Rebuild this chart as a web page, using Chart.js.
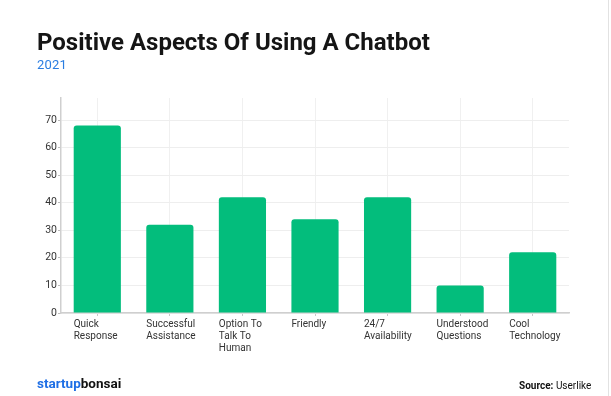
<!DOCTYPE html>
<html>
<head>
    <title>Positive Aspects Of Using A Chatbot</title>
    <script src="https://cdn.jsdelivr.net/npm/chart.js"></script>
    <style>
        body { margin: 0; background: #fff; font-family: Roboto, sans-serif; }
        #wrap { position: relative; width: 611px; height: 396px; overflow: hidden; }
        #edge { position: absolute; left: 608px; top: 0; width: 1px; height: 396px; background: #e2e2e2; }
        .title { position: absolute; left: 37px; top: 28px; font-size: 24px; font-weight: 700; color: #151515; letter-spacing: 0; white-space: nowrap; }
        .year { position: absolute; left: 37px; top: 57px; font-size: 13px; color: #2a7de1; letter-spacing: 0.2px; }
        .brand { position: absolute; left: 37px; top: 375px; font-size: 13.5px; font-weight: 700; color: #111; }
        .brand span { color: #1f6fe5; }
        .source { position: absolute; left: 519px; top: 380px; font-size: 10px; color: #111; }
        canvas { position: absolute; left: 0; top: 0; }
    </style>
</head>
<body>
<div id="wrap">
    <canvas id="chart" width="611" height="396"></canvas>
    <div class="title">Positive Aspects Of Using A Chatbot</div>
    <div class="year">2021</div>
    <div class="brand"><span>startup</span>bonsai</div>
    <div class="source"><b>Source:</b> Userlike</div>
    <div id="edge"></div>
</div>

<script>
    // data
    const categories = [
        ['Quick', 'Response'],
        ['Successful', 'Assistance'],
        ['Option To', 'Talk To', 'Human'],
        ['Friendly'],
        ['24/7', 'Availability'],
        ['Understood', 'Questions'],
        ['Cool', 'Technology']
    ];
    const values = [68, 32, 42, 34, 42, 10, 22];
    const yTicks = [0, 10, 20, 30, 40, 50, 60, 70];

    // x labels are left aligned with the bar's left edge
    const leftLabels = {
        id: 'leftLabels',
        afterDraw(chart) {
            const ctx = chart.ctx;
            const bars = chart.getDatasetMeta(0).data;
            ctx.save();
            ctx.font = '10px Roboto';
            ctx.fillStyle = '#333';
            ctx.textBaseline = 'top';
            ctx.textAlign = 'left';
            bars.forEach((bar, i) => {
                const x = bar.x - bar.width / 2;
                categories[i].forEach((line, j) => {
                    ctx.fillText(line, x, chart.chartArea.bottom + 6 + j * 12);
                });
            });
            ctx.restore();
        }
    };

    new Chart(document.getElementById('chart'), {
        type: 'bar',
        data: {
            labels: categories.map(c => c.join(' ')),
            datasets: [{
                data: values,
                backgroundColor: '#03bd7c',
                borderRadius: { topLeft: 3, topRight: 3 },
                borderSkipped: 'bottom',
                barPercentage: 0.65,
                categoryPercentage: 1
            }]
        },
        options: {
            responsive: false,
            animation: false,
            layout: { padding: { top: 98, right: 42, left: 0, bottom: 0 } },
            plugins: { legend: { display: false }, tooltip: { enabled: false } },
            scales: {
                x: {
                    afterFit: s => { s.height = 83; },
                    grid: { color: '#f0f0f0', tickColor: '#c8c8c8', tickLength: 3, offset: false },
                    border: { color: '#cfcfcf', width: 1.5 },
                    ticks: { display: false }
                },
                y: {
                    min: 0,
                    max: 78,
                    afterFit: s => { s.width = 61; },
                    afterBuildTicks: s => { s.ticks = yTicks.map(v => ({ value: v })); },
                    grid: { color: '#eeeeee', tickColor: '#bbbbbb', tickLength: 3 },
                    border: { color: '#cfcfcf', width: 1.5 },
                    ticks: { padding: 1, color: '#333', font: { family: 'Roboto', size: 10.5 } }
                }
            }
        },
        plugins: [leftLabels]
    });
</script>
</body>
</html>
